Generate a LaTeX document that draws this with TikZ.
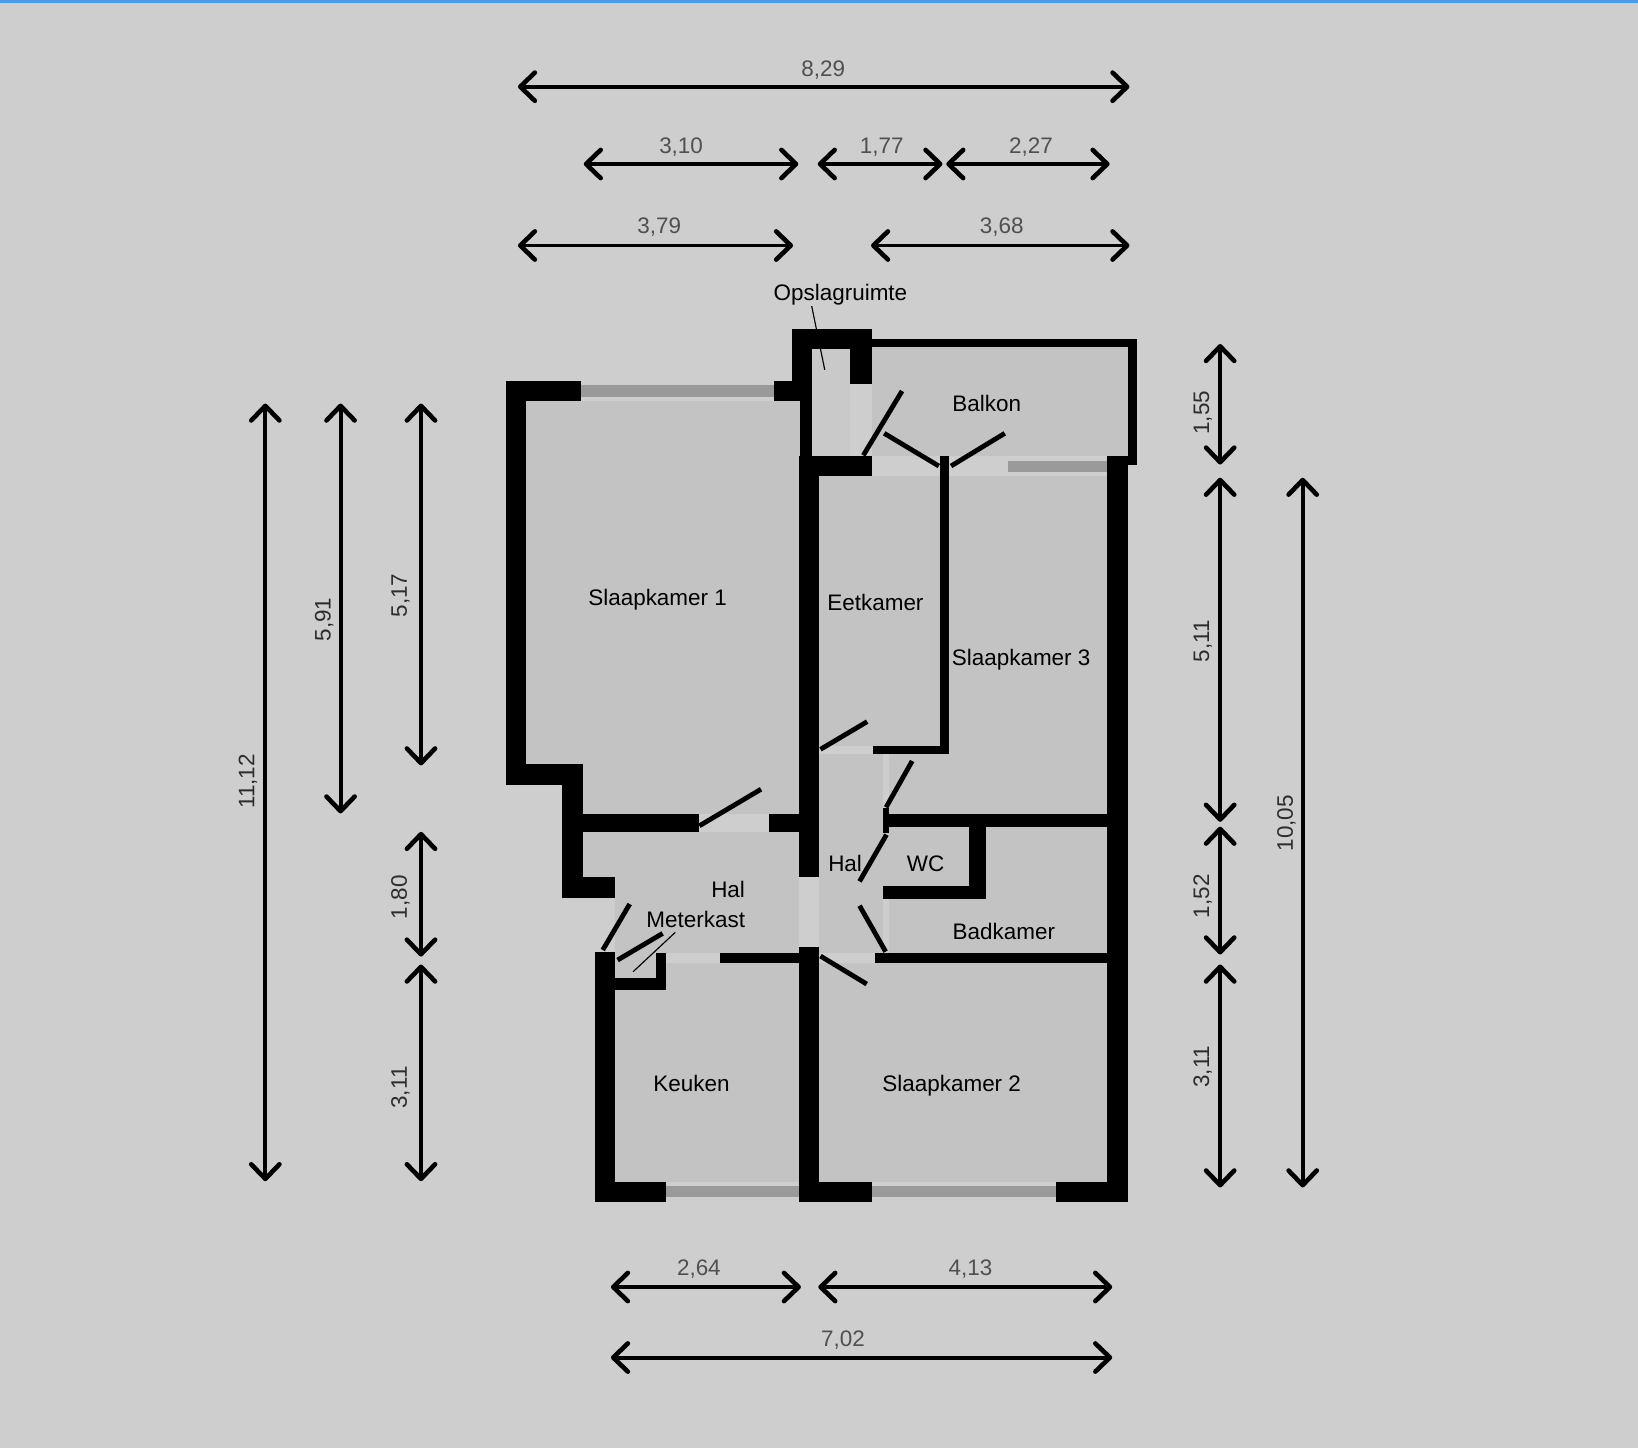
\documentclass[tikz,border=0pt]{standalone}
\usepackage{fontspec}
\setmainfont{Liberation Sans}
\usetikzlibrary{arrows.meta}
\definecolor{bgc}{HTML}{CECECE}
\definecolor{roomc}{HTML}{C3C3C3}
\definecolor{storec}{HTML}{C9C9C9}
\definecolor{glassc}{HTML}{9A9A9A}
\definecolor{barc}{HTML}{4A9BEA}
\definecolor{dimc}{HTML}{505050}
\definecolor{dimvc}{HTML}{2C2C2C}
\tikzset{
  wall/.style={fill=black,draw=none},
  gap/.style={fill=bgc,draw=none},
  glass/.style={fill=glassc,draw=none},
  room/.style={fill=roomc,draw=none},
  door/.style={draw=black,line width=4.6pt},
  leader/.style={draw=black,line width=1.1pt},
  dimline/.style={draw=black,line width=3.8pt,
    {Straight Barb[length=14pt,width=27pt,line width=4.4pt,round]}-{Straight Barb[length=14pt,width=27pt,line width=4.4pt,round]}},
  dimtext/.style={text=dimc,font=\fontsize{21.5}{25}\selectfont,anchor=base,inner sep=0pt},
  roomtext/.style={text=black,font=\fontsize{21.5}{25}\selectfont,anchor=base,inner sep=0pt},
}
\newcommand\DimH[7]{%
  \coordinate (#1a) at (#2-1.2,#4); \coordinate (#1b) at (#3+1.2,#4);
  \draw[dimline] (#1a) -- (#1b);
  \node[dimtext] (#1t) at (#5,#6+7.5) {#7};}
\newcommand\DimV[7]{%
  \coordinate (#1a) at (#4,#2-1.7); \coordinate (#1b) at (#4,#3+1.7);
  \draw[dimline] (#1a) -- (#1b);
  \node[dimtext,text=dimvc,rotate=90] (#1t) at (#5+7.5,#6) {#7};}
\newcommand\RT[4]{\node[roomtext] (#1) at (#2,#3+7.5) {#4};}
\newcommand\WR[2]{\fill[wall] (#1) rectangle (#2);}
\newcommand\GP[2]{\fill[gap] (#1) rectangle (#2);}
\newcommand\GL[2]{\fill[glass] (#1) rectangle (#2);}
\begin{document}
\begin{tikzpicture}[x=1pt,y=-1pt]
\useasboundingbox (0,0) rectangle (1568,1386);
\fill[bgc] (0,0) rectangle (1568,1386);
\fill[barc] (0,0) rectangle (1568,2.6);
% rooms
\fill[room] (503,384)--(766,384)--(766,780)--(557,780)--(557,731)--(503,731)--cycle;
\fill[room] (557,796)--(766,796)--(766,913)--(588.7,913)--(588.7,840)--(557,840)--cycle;
\fill[room] (588,913) rectangle (766,1132);
\fill[room] (784,456) rectangle (1060,1132);
\fill[room] (834,332) rectangle (1080,437);
\fill[storec] (777,333) rectangle (815,437);
% openings
\GP{556,364.8}{741,384}
\GP{638,1131.2}{765,1150.3}
\GP{834.4,1131.2}{1011,1150.3}
\GP{669,779.6}{737,796.2}
\GP{765,839.5}{784.2,906.2}
\GP{784,713.8}{836,721.8}
\GP{845.4,721.8}{850.6,773.8}
\GP{845.4,861}{850.6,912.6}
\GP{784,912.6}{837.4,922.2}
\GP{637.5,912.6}{689,922.2}
\GP{813.7,367.6}{834.4,436.8}
\GP{834.4,436.8}{1059.7,455.7}
% windows
\GL{556,369}{741,380}
\GL{638,1135.3}{765.2,1145.9}
\GL{834.4,1135.3}{1011,1145.9}
\GL{964.7,441}{1059.7,451.6}
% walls
\WR{484.4,364.8}{556,384}
\WR{484.4,364.8}{503.3,751.2}
\WR{484.4,731}{557.7,751.2}
\WR{537.6,731}{557.7,860}
\WR{537.6,839.5}{588.7,860}
\WR{557,779.6}{669.3,796.2}
\WR{736.6,779.6}{765.5,796.2}
\WR{741,364.8}{777.4,384}
\WR{758.3,315}{777.4,384}
\WR{758.3,315}{834.4,333.8}
\WR{813.7,315}{834.4,367.6}
\WR{765.5,384}{777.4,437}
\WR{765.5,436.8}{834.4,455.7}
\WR{765.3,436.8}{784.2,839.5}
\WR{765.3,906.2}{784.2,1150.3}
\WR{834,324.2}{1088,332.5}
\WR{1079.7,324.2}{1088,445}
\WR{1059.7,436.8}{1088,445}
\WR{1059.7,436.8}{1079.8,1150.3}
\WR{899.6,436.8}{908.7,721.8}
\WR{835.7,713.8}{908.7,721.8}
\WR{845.4,773.8}{850.6,797.8}
\WR{850,779.6}{1060,791.7}
\WR{928,791.7}{944.1,861}
\WR{845.4,847.8}{944.1,861}
\WR{837.4,912.6}{1060,922.2}
\WR{689,912.6}{765.3,922.2}
\WR{569.8,911.7}{588.7,1150.3}
\WR{569.8,1131.2}{638,1150.3}
\WR{628.2,912.6}{637.5,947.7}
\WR{588.7,936}{637.5,948}
\WR{765.3,1131.2}{834.4,1150.3}
\WR{1010.9,1131.2}{1079.8,1150.3}
% doors
\draw[door] (826.4,435.9) -- (863.5,374.3);
\draw[door] (846.4,414.8) -- (898.7,446.1);
\draw[door] (961.8,414.8) -- (910.4,446.1);
\draw[door] (669.5,790.5) -- (728.5,755.5);
\draw[door] (785.4,717.3) -- (830.1,690.8);
\draw[door] (873.2,728.5) -- (848.2,772.8);
\draw[door] (848.6,799) -- (822.8,843.7);
\draw[door] (822.8,867) -- (847.8,911);
\draw[door] (785.4,915.2) -- (829.7,942);
\draw[door] (602.8,865.4) -- (577,909.4);
\draw[door] (634.3,893.5) -- (591.2,919);
% leaders
\draw[leader] (777,293) -- (789.5,354);
\draw[leader] (646.4,892.5) -- (606,930.2);
% room labels
\RT{r1}{629.5}{572}{Slaapkamer 1}
\RT{r2}{838}{577}{Eetkamer}
\RT{r3}{977.5}{630}{Slaapkamer 3}
\RT{r4}{944.5}{386}{Balkon}
\RT{r5}{804.5}{280}{Opslagruimte}
\RT{r6}{809}{827}{Hal}
\RT{r7}{886}{827}{WC}
\RT{r8}{697}{852}{Hal}
\RT{r9}{666}{880}{Meterkast}
\RT{r10}{961}{892}{Badkamer}
\RT{r11}{662}{1037}{Keuken}
\RT{r12}{911}{1037}{Slaapkamer 2}
% dimensions
\DimH{h1}{497}{1080}{83}{788}{66}{8,29}
\DimH{h2}{560}{763}{157}{652}{139}{3,10}
\DimH{h3}{784}{901}{157}{844}{139}{1,77}
\DimH{h4}{907}{1061}{157}{987}{139}{2,27}
\DimH{h5}{497}{758}{235}{631}{216}{3,79}
\DimH{h6}{835}{1080}{235}{959}{216}{3,68}
\DimH{h7}{586}{765.5}{1232}{669}{1213}{2,64}
\DimH{h8}{784.5}{1063.5}{1232}{929}{1213}{4,13}
\DimH{h9}{586}{1063.5}{1299.5}{807}{1281}{7,02}
\DimV{v1}{388}{1129}{254}{236}{748}{11,12}
\DimV{v2}{388}{777}{326}{309}{593}{5,91}
\DimV{v3}{388}{731}{403}{382}{570}{5,17}
\DimV{v4}{798}{914}{403}{382}{859}{1,80}
\DimV{v5}{925}{1129}{403}{382}{1041}{3,11}
\DimV{v6}{331}{443}{1168}{1150}{395}{1,55}
\DimV{v7}{459}{785}{1168}{1150}{614}{5,11}
\DimV{v8}{793}{912}{1168}{1150}{858}{1,52}
\DimV{v9}{925}{1135}{1168}{1150}{1021}{3,11}
\DimV{v10}{459}{1135}{1247}{1230}{788}{10,05}
\end{tikzpicture}
\end{document}
